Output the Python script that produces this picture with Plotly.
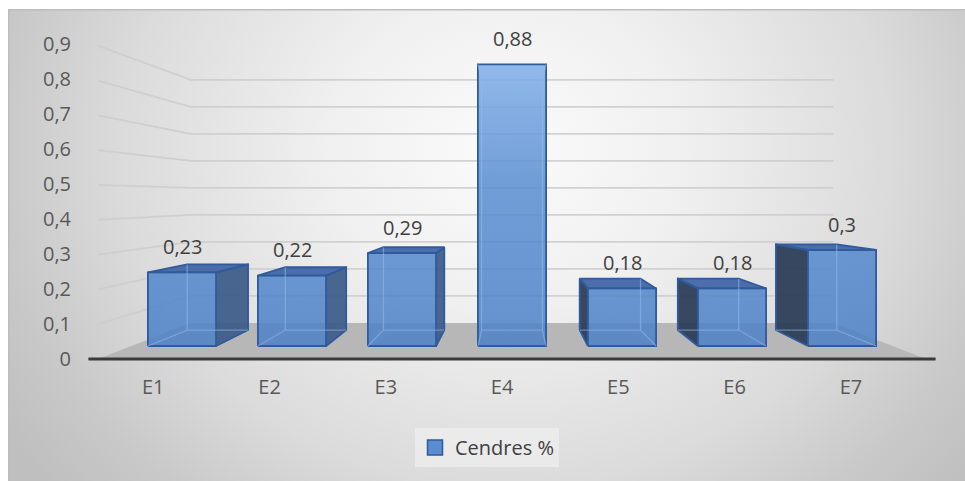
import base64
import plotly.graph_objects as go

# ---- data -------------------------------------------------------------
CATEGORIES = ["E1", "E2", "E3", "E4", "E5", "E6", "E7"]
VALUES = [0.23, 0.22, 0.29, 0.88, 0.18, 0.18, 0.3]
SERIES_NAME = "Cendres %"
Y_TICKS = [0, 0.1, 0.2, 0.3, 0.4, 0.5, 0.6, 0.7, 0.8, 0.9]
Y_TICK_LABELS = ["0", "0,1", "0,2", "0,3", "0,4", "0,5", "0,6", "0,7", "0,8", "0,9"]

# ---- perspective set-up (data units of the 2-D axes) ------------------
VX = (len(CATEGORIES) - 1) / 2.0   # vanishing point, horizontal
VY = 0.46                          # vanishing point, vertical (eye level)
Y0 = 0.0371                        # floor height on the bars' front plane
K = 0.9143                         # value scale on the bars' front plane
S_FRONT, S_BACK = 1.0, 0.892       # depth of bar front / back faces
S_WALL, S_EDGE = 0.844, 1.088      # back wall / front edge of the floor
HALF_W = 0.31                      # bar half width
WALL_HALF = 3.46                   # half width of the floor / back wall

FONT = "Open Sans"


def proj(x, v, s):
    """Project world point (x, value, depth scale) onto the 2-D axes."""
    return VX + (x - VX) * s, VY + (Y0 + K * v - VY) * s


def add_path(xs, ys, pts, close=False):
    seq = list(pts) + ([pts[0]] if close else [])
    xs.extend(p[0] for p in seq)
    ys.extend(p[1] for p in seq)
    xs.append(None)
    ys.append(None)


fig = go.Figure()

# gridlines on the back wall and left side wall
gx, gy = [], []
for v in Y_TICKS[1:]:
    add_path(gx, gy, [proj(VX - WALL_HALF, v, S_EDGE),
                      proj(VX - WALL_HALF, v, S_WALL),
                      proj(VX + WALL_HALF, v, S_WALL)])
fig.add_trace(go.Scatter(x=gx, y=gy, mode="lines",
                         line=dict(color="rgba(205,205,205,0.9)", width=1.8),
                         hoverinfo="skip", showlegend=False))

# floor
fx, fy = [], []
add_path(fx, fy, [proj(VX - WALL_HALF, 0, S_WALL), proj(VX + WALL_HALF, 0, S_WALL),
                  proj(VX + WALL_HALF, 0, S_EDGE), proj(VX - WALL_HALF, 0, S_EDGE)],
         close=True)
fig.add_trace(go.Scatter(x=fx, y=fy, mode="lines", fill="toself",
                         fillcolor="#b7b7b7", line=dict(width=0),
                         hoverinfo="skip", showlegend=False))

# category axis line along the front edge of the floor
ax0 = proj(VX - WALL_HALF * 1.023, 0, S_EDGE)
ax1 = proj(VX + WALL_HALF * 1.023, 0, S_EDGE)
fig.add_trace(go.Scatter(x=[ax0[0], ax1[0]], y=[ax0[1], ax1[1]], mode="lines",
                         line=dict(color="#3a3a3a", width=3),
                         hoverinfo="skip", showlegend=False))

# ---- 3-D bars -----------------------------------------------------------
FACES = {
    "front": ["FL0", "FR0", "FR1", "FL1"],
    "back": ["BL0", "BR0", "BR1", "BL1"],
    "left": ["FL0", "BL0", "BL1", "FL1"],
    "right": ["FR0", "BR0", "BR1", "FR1"],
    "top": ["FL1", "FR1", "BR1", "BL1"],
    "bottom": ["FL0", "FR0", "BR0", "BL0"],
}


def face_edges(face):
    f = FACES[face]
    return {frozenset((f[j], f[(j + 1) % 4])) for j in range(4)}


ALL_EDGES = set().union(*(face_edges(f) for f in FACES))

front_x, front_y = [], []
rside_x, rside_y = [], []
lside_x, lside_y = [], []
top_x, top_y = [], []
hid_x, hid_y = [], []

for i, v in enumerate(VALUES):
    x = float(i)
    pts = {}
    for side, dx in (("L", -HALF_W), ("R", HALF_W)):
        for lvl, vv in (("0", 0.0), ("1", v)):
            pts["F" + side + lvl] = proj(x + dx, vv, S_FRONT)
            pts["B" + side + lvl] = proj(x + dx, vv, S_BACK)

    visible = ["front"]
    if x < VX - 1e-9:
        visible.append("right")
    elif x > VX + 1e-9:
        visible.append("left")
    if Y0 + K * v < VY:
        visible.append("top")

    for name in visible:
        poly = [pts[k] for k in FACES[name]]
        if name == "front":
            add_path(front_x, front_y, poly, close=True)
        elif name == "right":
            add_path(rside_x, rside_y, poly, close=True)
        elif name == "left":
            add_path(lside_x, lside_y, poly, close=True)
        else:
            add_path(top_x, top_y, poly, close=True)

    vis_edges = set().union(*(face_edges(f) for f in visible))
    for e in ALL_EDGES - vis_edges:
        a, b = tuple(e)
        add_path(hid_x, hid_y, [pts[a], pts[b]])

EDGE = dict(color="#2f5a9c", width=1.8)
fig.add_trace(go.Scatter(x=rside_x, y=rside_y, mode="lines", fill="toself",
                         fillcolor="rgba(58,90,135,0.92)", line=EDGE,
                         hoverinfo="skip", showlegend=False))
fig.add_trace(go.Scatter(x=lside_x, y=lside_y, mode="lines", fill="toself",
                         fillcolor="rgba(40,58,84,0.92)", line=EDGE,
                         hoverinfo="skip", showlegend=False))
fig.add_trace(go.Scatter(x=top_x, y=top_y, mode="lines", fill="toself",
                         fillcolor="rgba(62,100,165,0.92)", line=EDGE,
                         hoverinfo="skip", showlegend=False))
fig.add_trace(go.Scatter(x=front_x, y=front_y, mode="lines", fill="toself",
                         fillgradient=dict(type="vertical", colorscale=[
                             [0.0, "rgba(76,128,198,0.85)"],
                             [0.6, "rgba(90,142,210,0.85)"],
                             [1.0, "rgba(128,174,232,0.85)"]]),
                         line=EDGE, hoverinfo="skip", showlegend=False))
fig.add_trace(go.Scatter(x=hid_x, y=hid_y, mode="lines",
                         line=dict(color="rgba(150,185,232,0.55)", width=1.3),
                         hoverinfo="skip", showlegend=False))

# legend entry for the series
fig.add_trace(go.Scatter(x=[None], y=[None], mode="markers", name=SERIES_NAME,
                         marker=dict(symbol="square", size=15, color="#5b8bd0",
                                     line=dict(color="#2f5a9c", width=1.5))))

# value labels above the bars
for i, v in enumerate(VALUES):
    lx, ly = proj(float(i), v, S_FRONT)
    fig.add_annotation(x=lx, y=ly, text=f"{v:g}".replace(".", ","),
                       showarrow=False, yanchor="middle", yshift=26,
                       font=dict(family=FONT, size=20, color="#404040"))

# ---- background -------------------------------------------------------
W_FIG, H_FIG = 965, 481
ML, MR, MT, MB = 88, 8, 9, 11
PW, PH = W_FIG - ML - MR, H_FIG - MT - MB

bg_svg = (
    "<svg xmlns='http://www.w3.org/2000/svg' width='957' height='472' "
    "viewBox='0 0 957 472' preserveAspectRatio='none'>"
    "<defs><radialGradient id='g' cx='0.52' cy='0.3' r='1' "
    "gradientTransform='translate(0.52,0.3) scale(0.62,1.1) translate(-0.52,-0.3)'>"
    "<stop offset='0' stop-color='#fbfbfb'/>"
    "<stop offset='0.3' stop-color='#f0f0f0'/>"
    "<stop offset='0.65' stop-color='#dbdbdb'/>"
    "<stop offset='0.85' stop-color='#c9c9c9'/>"
    "<stop offset='1' stop-color='#bfbfbf'/>"
    "</radialGradient></defs>"
    "<rect width='957' height='472' fill='url(#g)'/>"
    "<line x1='0' y1='0.75' x2='957' y2='0.75' stroke='#bdbdbd' stroke-width='1.5'/>"
    "<line x1='0.75' y1='0' x2='0.75' y2='472' stroke='#bdbdbd' stroke-width='1.5'/>"
    "</svg>"
)
bg_uri = "data:image/svg+xml;base64," + base64.b64encode(bg_svg.encode()).decode()

fig.add_layout_image(
    source=bg_uri, xref="paper", yref="paper",
    x=(8 - ML) / PW, y=1.0, sizex=(W_FIG - 8) / PW, sizey=(H_FIG - 9) / PH,
    xanchor="left", yanchor="top", sizing="stretch", layer="below",
)

# ---- axes / layout ----------------------------------------------------
x_tick_pos = [2.91 + (i - VX) * 1.057 for i in range(len(CATEGORIES))]

fig.update_layout(
    width=W_FIG, height=H_FIG,
    margin=dict(l=ML, r=MR, t=MT, b=MB),
    paper_bgcolor="white", plot_bgcolor="rgba(0,0,0,0)",
    font=dict(family=FONT, size=20, color="#595959"),
    xaxis=dict(range=[VX - 424 / 110, VX + 445 / 110], showgrid=False,
               zeroline=False, showline=False, ticks="",
               tickmode="array", tickvals=x_tick_pos, ticktext=CATEGORIES,
               anchor="free", position=110 / PH, ticklabelstandoff=13,
               fixedrange=True),
    yaxis=dict(range=[(359 - 470) / 350, 350 / 350], showgrid=False,
               zeroline=False, showline=False, ticks="",
               tickmode="array", tickvals=Y_TICKS, ticktext=Y_TICK_LABELS,
               anchor="free", position=0, ticklabelstandoff=17,
               fixedrange=True),
    showlegend=True,
    legend=dict(orientation="h", x=(415 - ML) / PW, y=(470 - 428) / PH,
                xanchor="left", yanchor="top",
                bgcolor="rgba(236,236,236,0.85)",
                font=dict(family=FONT, size=20, color="#404040"),
                itemclick=False, itemdoubleclick=False),
)

fig.write_html("out.html")
